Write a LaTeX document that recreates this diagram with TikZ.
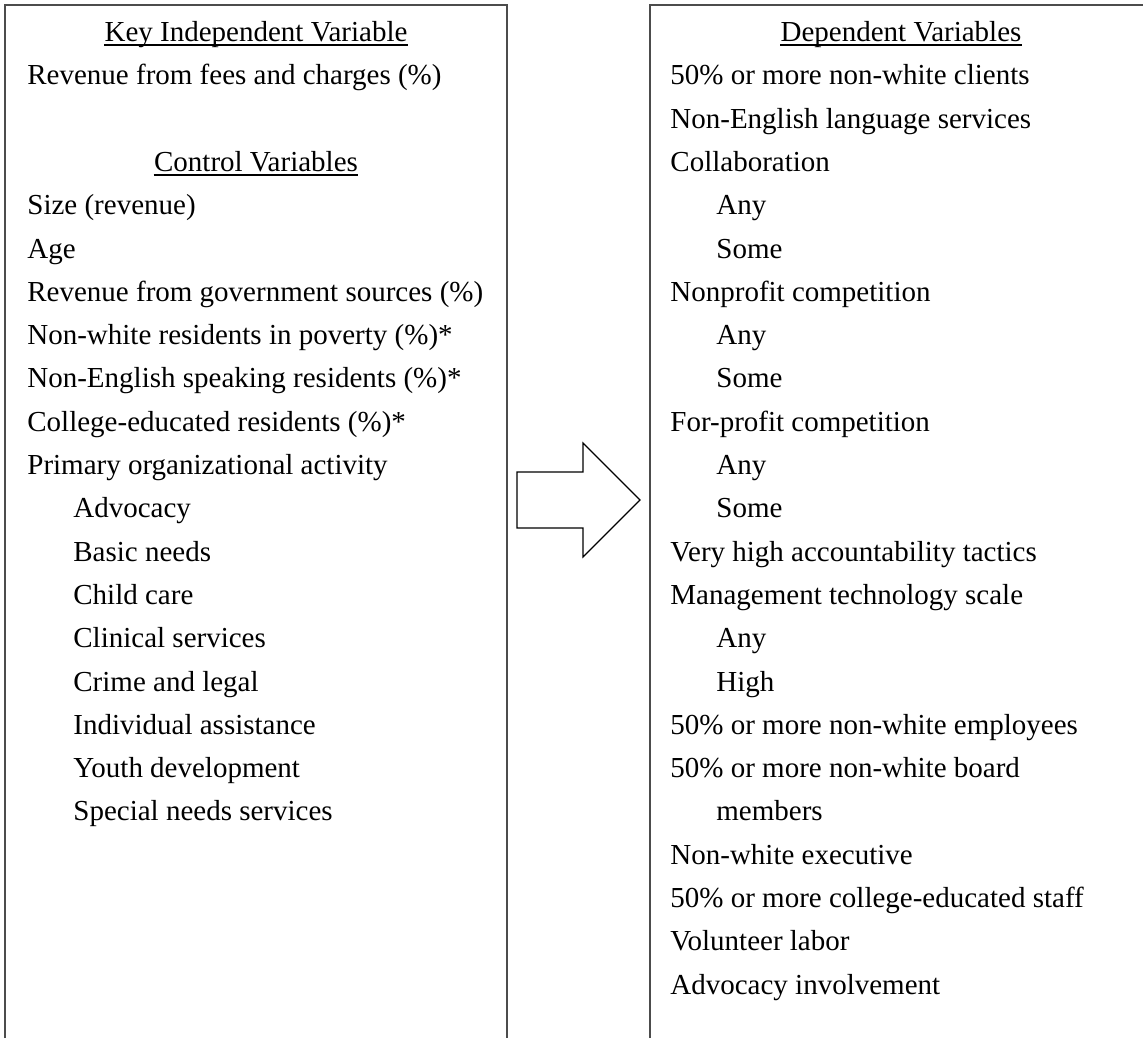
\documentclass[tikz,border=0pt]{standalone}
\usepackage{fontspec}
\setmainfont{Liberation Serif}
\usepackage{tikz}

\begin{document}
\begin{tikzpicture}[x=0.5pt, y=-0.5pt,
    item/.style={anchor=base west, inner sep=0pt, font=\fontsize{14.5}{17}\selectfont},
    head/.style={anchor=base, inner sep=0pt, font=\fontsize{14.5}{17}\selectfont},
    frame/.style={draw=black!70, line width=1pt},
    uline/.style={line width=0.7pt}]
                        \useasboundingbox (0,0) rectangle (1143,1038);
                        % the two boxes, open at the bottom
                        \draw[frame] (5,1038) -- (5,5) -- (507,5) -- (507,1038);
                        \draw[frame] (650,1038) -- (650,5) -- (1143,5);
                        % block arrow
                        \draw[line width=0.6pt] (517,472) -- (583,472) -- (583,443) -- (640,500)
                              -- (583,557) -- (583,528) -- (517,528) -- cycle;
                        % left box
                        \node[head] (kiv) at (256,41.5) {Key Independent Variable};
                        \draw[uline] ([yshift=-1.8pt]kiv.base west) -- ([yshift=-1.8pt]kiv.base east);
                        \node[item] (fees) at (27,84.8) {Revenue from fees and charges (\%)};
                        \node[head] (cv) at (256,171.4) {Control Variables};
                        \draw[uline] ([yshift=-1.8pt]cv.base west) -- ([yshift=-1.8pt]cv.base east);
                        \node[item] (size) at (27,214.7) {Size (revenue)};
                        \node[item] (age) at (27,258.0) {Age};
                        \node[item] (govrev) at (27,301.3) {Revenue from government sources (\%)};
                        \node[item] (nwpov) at (27,344.6) {Non-white residents in poverty (\%)*};
                        \node[item] (nespk) at (27,387.9) {Non-English speaking residents (\%)*};
                        \node[item] (coll) at (27,431.2) {College-educated residents (\%)*};
                        \node[item] (prim) at (27,474.5) {Primary organizational activity};
                        \node[item] (adv) at (73,517.8) {Advocacy};
                        \node[item] (basic) at (73,561.1) {Basic needs};
                        \node[item] (child) at (73,604.4) {Child care};
                        \node[item] (clin) at (73,647.7) {Clinical services};
                        \node[item] (crime) at (73,691.0) {Crime and legal};
                        \node[item] (indiv) at (73,734.3) {Individual assistance};
                        \node[item] (youth) at (73,777.6) {Youth development};
                        \node[item] (special) at (73,820.9) {Special needs services};
                        % right box
                        \node[head] (dv) at (901,41.5) {Dependent Variables};
                        \draw[uline] ([yshift=-1.8pt]dv.base west) -- ([yshift=-1.8pt]dv.base east);
                        \node[item] (nwcli) at (670,84.8) {50\% or more non-white clients};
                        \node[item] (nelang) at (670,128.1) {Non-English language services};
                        \node[item] (collab) at (670,171.4) {Collaboration};
                        \node[item] (collabany) at (716,214.7) {Any};
                        \node[item] (collabsome) at (716,258.0) {Some};
                        \node[item] (npcomp) at (670,301.3) {Nonprofit competition};
                        \node[item] (npany) at (716,344.6) {Any};
                        \node[item] (npsome) at (716,387.9) {Some};
                        \node[item] (fpcomp) at (670,431.2) {For-profit competition};
                        \node[item] (fpany) at (716,474.5) {Any};
                        \node[item] (fpsome) at (716,517.8) {Some};
                        \node[item] (acct) at (670,561.1) {Very high accountability tactics};
                        \node[item] (mgmt) at (670,604.4) {Management technology scale};
                        \node[item] (mgmtany) at (716,647.7) {Any};
                        \node[item] (mgmthigh) at (716,691.0) {High};
                        \node[item] (nwemp) at (670,734.3) {50\% or more non-white employees};
                        \node[item] (nwboard) at (670,777.6) {50\% or more non-white board};
                        \node[item] (nwboardb) at (716,820.9) {members};
                        \node[item] (nwexec) at (670,864.2) {Non-white executive};
                        \node[item] (collstaff) at (670,907.5) {50\% or more college-educated staff};
                        \node[item] (volun) at (670,950.8) {Volunteer labor};
                        \node[item] (advinv) at (670,994.1) {Advocacy involvement};
                    \end{tikzpicture}
\end{document}
